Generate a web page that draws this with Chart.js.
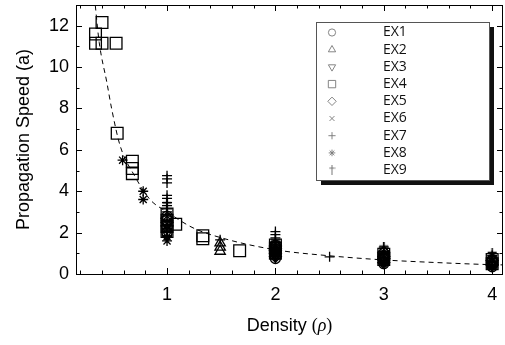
<!DOCTYPE html>
<html><head><meta charset="utf-8">
<style>html,body{margin:0;padding:0;background:#fff}</style>
<script src="https://cdn.jsdelivr.net/npm/chart.js@4/dist/chart.umd.min.js"></script>
</head><body>
<canvas id="c" width="505" height="345"></canvas>
<script>
// ---- data ----
const seriesNames = ['EX1','EX2','EX3','EX4','EX5','EX6','EX7','EX8','EX9'];
const xTickLabels = [1,2,3,4];
const yTickLabels = [0,2,4,6,8,10,12];

const ex1X = [1,1,1,1, 2,2,2,2,2,2,2, 3,3,3,3,3,3, 4,4,4,4,4];
const ex1Y = [2.0,2.3,2.6,2.8, 0.75,0.9,1.0,1.1,1.2,1.3,1.4, 0.5,0.6,0.7,0.8,0.9,1.0, 0.35,0.45,0.5,0.6,0.7];

const ex2X = [1.49,1.49,1.49, 1, 2,2, 3, 4];
const ex2Y = [1.1,1.3,1.5, 2.2, 1.0,1.2, 0.7, 0.5];

const ex3X = [1, 2,2,2,2, 3,3, 4];
const ex3Y = [2.4, 0.9,1.05,1.15,1.3, 0.65,0.8, 0.4];

const ex4X = [0.34,0.40,0.34,0.40,0.53,0.54,0.68,0.68,0.68,1,1,1,1,1.08,1.33,1.33,1.67,2,2,2,3,3,4,4];
const ex4Y = [11.6,12.15,11.15,11.15,11.15,6.8,5.45,5.1,4.85,2.9,2.6,2.3,2.05,2.4,1.85,1.7,1.12,1.0,1.25,1.4,0.7,0.95,0.5,0.7];

const ex5X = [1,1, 2,2,2,2,2, 3,3,3,3, 4,4];
const ex5Y = [2.5,2.7, 0.85,1.0,1.15,1.25,1.35, 0.55,0.75,0.85,1.05, 0.45,0.65];

const ex6X = [1, 2, 3, 4];
const ex6Y = [2.15, 0.95, 0.6, 0.4];

const ex7X = [1,1,1,1,1,1,1,1,1,1,1,1,1,1,1, 1.49, 2,2,2,2,2,2,2,2,2, 2.5, 3,3,3,3,3,3, 4,4,4,4,4];
const ex7Y = [4.75,4.6,4.4,3.8,3.65,3.45,3.3,3.15,3.0,2.8,2.6,2.4,2.2,2.0,1.85, 1.65, 2.05,1.9,1.75,1.55,1.4,1.2,1.0,0.85,0.75, 0.83, 1.3,1.1,0.95,0.8,0.65,0.5, 0.9,0.75,0.6,0.45,0.35];

const ex8X = [0.59, 0.78,0.78, 1,1, 2, 3, 4];
const ex8Y = [5.5, 4.0,3.6, 1.6,1.8, 0.9, 0.55, 0.35];

const ex9X = [1,1, 2,2, 3,3, 4,4];
const ex9Y = [2.0,3.3, 1.1,1.5, 0.9,1.2, 0.7,0.9];

const fitX = [0.33,0.374,0.445,0.49,0.567,0.7,0.843,1,1.24,1.5,2,2.5,3,3.5,4,4.1];
const fitY = [13.4,11.2,9.25,7.96,6.2,4.75,3.6,3.0,2.23,1.75,1.17,0.88,0.68,0.55,0.45,0.44];

// ---- helpers ----
function pts(xs, ys){ return xs.map((x,i)=>({x:x, y:ys[i]})); }

const dagger = document.createElement('canvas');
dagger.width = 11; dagger.height = 15;
(function(){
  const g = dagger.getContext('2d');
  g.strokeStyle = '#000'; g.lineWidth = 1.4;
  g.beginPath(); g.moveTo(5.5,0); g.lineTo(5.5,15); g.moveTo(1,4.5); g.lineTo(10,4.5); g.stroke();
})();
const daggerSmall = document.createElement('canvas');
daggerSmall.width = 7; daggerSmall.height = 10;
(function(){
  const g = daggerSmall.getContext('2d');
  g.strokeStyle = '#777'; g.lineWidth = 1;
  g.beginPath(); g.moveTo(3.5,0); g.lineTo(3.5,10); g.moveTo(0.5,3); g.lineTo(6.5,3); g.stroke();
})();

const styles = [
  {ps:'circle', r:5, rot:0},
  {ps:'triangle', r:6, rot:0},
  {ps:'triangle', r:6, rot:180},
  {ps:'rect', r:8.3, rot:0},
  {ps:'rectRot', r:6, rot:0},
  {ps:'crossRot', r:5, rot:0},
  {ps:'cross', r:5, rot:0},
  {ps:'star', r:5, rot:0},
  {ps:dagger, r:6, rot:0}
];
const xsArr = [ex1X,ex2X,ex3X,ex4X,ex5X,ex6X,ex7X,ex8X,ex9X];
const ysArr = [ex1Y,ex2Y,ex3Y,ex4Y,ex5Y,ex6Y,ex7Y,ex8Y,ex9Y];

const datasets = [{
  type:'line', label:'fit', data: pts(fitX, fitY),
  borderColor:'#000', borderWidth:1, borderDash:[5,4], pointRadius:0,
  cubicInterpolationMode:'monotone', fill:false, order:10
}];
seriesNames.forEach((n,i)=>{
  datasets.push({
    type:'scatter', label:n, data: pts(xsArr[i], ysArr[i]),
    pointStyle: styles[i].ps, pointRadius: styles[i].r, pointRotation: styles[i].rot,
    borderColor:'#000', backgroundColor:'rgba(0,0,0,0)', borderWidth:1.3, pointHoverRadius: styles[i].r
  });
});

const xMinor = []; for (let k=1;k<=20;k++) xMinor.push(k*0.2);
const yMinor = []; for (let k=0;k<=13;k++) yMinor.push(k);

const deco = {
  id:'deco',
  afterDatasetsDraw(chart){
    const {ctx, chartArea:a, scales:{x, y}} = chart;
    ctx.save();
    ctx.strokeStyle = '#000'; ctx.lineWidth = 1;
    ctx.beginPath();
    xMinor.forEach(v=>{
      const px = Math.round(x.getPixelForValue(v)) + 0.5;
      const major = Math.abs(v - Math.round(v)) < 1e-6;
      const L = major ? 6 : 3.5;
      ctx.moveTo(px, a.bottom); ctx.lineTo(px, a.bottom - L);
      ctx.moveTo(px, a.top); ctx.lineTo(px, a.top + L);
    });
    yMinor.forEach(v=>{
      const py = Math.round(y.getPixelForValue(v)) + 0.5;
      const major = v % 2 === 0;
      const L = major ? 6 : 3.5;
      ctx.moveTo(a.left, py); ctx.lineTo(a.left + L, py);
      ctx.moveTo(a.right, py); ctx.lineTo(a.right - L, py);
    });
    ctx.stroke();
    ctx.strokeRect(Math.round(a.left)+0.5, Math.round(a.top)+0.5, Math.round(a.right-a.left)-1, Math.round(a.bottom-a.top));
    ctx.restore();
  },
  afterDraw(chart){
    const ctx = chart.ctx;
    ctx.save();
    // legend box with shadow
    const bx=316, by=22, bw=173, bh=158;
    ctx.fillStyle = '#111';
    ctx.fillRect(bx+5, by+5, bw, bh);
    ctx.fillStyle = '#fff';
    ctx.fillRect(bx, by, bw, bh);
    ctx.strokeStyle = '#555'; ctx.lineWidth = 1;
    ctx.strokeRect(bx+0.5, by+0.5, bw, bh);
    ctx.font = '14px "Open Sans"';
    ctx.textBaseline = 'middle'; ctx.textAlign = 'left';
    seriesNames.forEach((n,i)=>{
      const yy = 32.5 + i*17.2;
      ctx.fillStyle = '#111';
      ctx.fillText(n, 383, yy);
      const s = styles[i];
      ctx.strokeStyle = '#777'; ctx.lineWidth = 0.9;
      ctx.fillStyle = 'rgba(0,0,0,0)';
      if (i === 8) {
        ctx.drawImage(daggerSmall, 332-3.5, yy-5);
      } else {
        const rr = {circle:3.6, triangle:4.2, rect:5.2, rectRot:4.2, crossRot:3.5, cross:3.6, star:3.3}[s.ps];
        Chart.helpers.drawPoint(ctx, {pointStyle:s.ps, radius:rr, rotation:s.rot, borderWidth:0.9}, 332, yy);
      }
    });
    // x title with mixed fonts
    ctx.fillStyle = '#000'; ctx.textBaseline = 'alphabetic';
    const parts = [
      ['Density ', '18px "Liberation Sans"'],
      ['(', '18px "Liberation Serif"'],
      ['\u03C1', 'italic 18px "Liberation Serif"'],
      [')', '18px "Liberation Serif"']
    ];
    let tw = 0;
    parts.forEach(p=>{ ctx.font = p[1]; tw += ctx.measureText(p[0]).width; });
    const a = chart.chartArea;
    let cx = (a.left + a.right)/2 - tw/2;
    parts.forEach(p=>{ ctx.font = p[1]; ctx.fillText(p[0], cx, 331); cx += ctx.measureText(p[0]).width; });
    ctx.restore();
  }
};

new Chart(document.getElementById('c'), {
  data: { datasets },
  options: {
    responsive:false, animation:false,
    layout:{ autoPadding:false, padding:{ top:5, right:2, left:0, bottom:0 } },
    plugins:{ legend:{display:false}, tooltip:{enabled:false} },
    scales:{
      x:{
        type:'linear', min:0.16, max:4.1,
        afterBuildTicks(s){ s.ticks = xTickLabels.map(v=>({value:v})); },
        afterFit(s){ s.height = 71; s.paddingLeft = 0; s.paddingRight = 0; },
        grid:{ display:false, drawTicks:false },
        border:{ display:false },
        ticks:{ color:'#000', font:{ family:'"Liberation Sans"', size:18 }, padding:10, maxRotation:0, autoSkip:false }
      },
      y:{
        type:'linear', min:0, max:13,
        afterBuildTicks(s){ s.ticks = yTickLabels.map(v=>({value:v})); },
        afterFit(s){ s.width = 76; s.paddingTop = 0; s.paddingBottom = 0; },
        grid:{ display:false, drawTicks:false },
        border:{ display:false },
        ticks:{ color:'#000', font:{ family:'"Liberation Sans"', size:18 }, padding:7, autoSkip:false },
        title:{ display:true, text:'Propagation Speed (a)', color:'#000', font:{ family:'"Liberation Sans"', size:18 }, padding:{top:13, bottom:0} }
      }
    }
  },
  plugins:[deco]
});
</script>
</body></html>
